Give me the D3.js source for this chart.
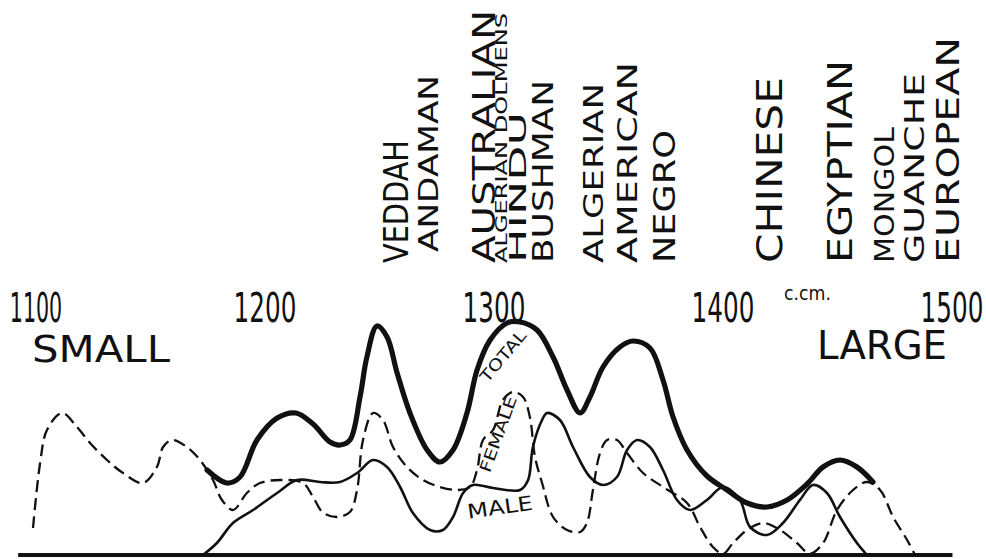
<!DOCTYPE html>
<html>
<head>
<meta charset="utf-8">
<script src="https://cdn.jsdelivr.net/npm/d3@7/dist/d3.min.js"></script>
<style>
  body { margin: 0; background: #fff; }
  text { font-family: "DejaVu Sans", sans-serif; fill: #111; }
</style>
</head>
<body>
<div id="chart"></div>
<script>
// cranial capacity scale, c.cm.
const ticks = [1100, 1200, 1300, 1400, 1500];

// races and where their label stands on the scale
const races = ["VEDDAH", "ANDAMAN", "AUSTRALIAN", "ALGERIAN DOLMENS", "HINDU", "BUSHMAN",
  "ALGERIAN", "AMERICAN", "NEGRO", "CHINESE", "EGYPTIAN", "MONGOL", "GUANCHE", "EUROPEAN"];
const raceCC = [1262, 1276, 1300, 1308, 1315, 1326, 1348, 1363, 1379, 1425, 1456, 1475, 1488, 1503];

// frequency curves [c.cm., frequency]
const total = [
  [1179.5, 34], [1188.2, 28.8], [1193.9, 31.2], [1201.3, 46], [1210.1, 54.8], [1218.3, 56.8],
  [1225.8, 52.4], [1233.2, 45.2], [1237.6, 44], [1241.9, 46], [1246.3, 63.2], [1249.3, 79.2],
  [1253.7, 91.6], [1258.1, 87.2], [1262.5, 72.8], [1268.1, 56.8], [1275.6, 42], [1281.2, 37.2],
  [1286.9, 42], [1293, 56.8], [1297.4, 74], [1303.1, 86], [1310.5, 92.8], [1316.2, 93.2],
  [1323.6, 90], [1330.6, 79.2], [1336.7, 66], [1342.4, 56.8], [1346.7, 63.2], [1352.4, 75.2],
  [1359.8, 83.2], [1365.5, 85.6], [1372.9, 82.8], [1378.6, 70], [1383, 55.2], [1389.1, 42],
  [1397.8, 31.6], [1406.6, 26], [1415.3, 20.8], [1424, 19.2], [1432.8, 22], [1441.5, 28.4],
  [1448.5, 35.2], [1455.9, 38], [1463.3, 35.2], [1470.3, 29.2]
];
const male = [
  [1177.7, 0], [1183.8, 4.8], [1190.8, 12.8], [1199.6, 18], [1210.1, 24.8], [1218.8, 30],
  [1228.8, 29.2], [1237.6, 29.2], [1245, 32.8], [1252, 38], [1258.1, 35.2], [1263.8, 27.2],
  [1269.4, 16.8], [1276.9, 10], [1282.5, 10], [1286.9, 15.2], [1291.3, 24.8], [1295.6, 28],
  [1304.4, 26.8], [1316.2, 26], [1319.7, 30], [1321.8, 43.2], [1325.8, 54], [1328, 56.8],
  [1333.6, 54], [1339.3, 43.2], [1346.7, 31.2], [1352.4, 28], [1358.5, 31.2], [1362.9, 42],
  [1367.3, 46], [1372.9, 43.2], [1378.6, 34], [1384.7, 22], [1390.4, 18], [1397.8, 22],
  [1404.8, 27.2], [1412.2, 22], [1416.6, 11.2], [1424, 8], [1431, 12.8], [1438.4, 22],
  [1444.1, 28], [1450.2, 24.8], [1455.9, 15.2], [1463.3, 4.8], [1467.7, 0]
];
const female = [
  [1103.5, 10.8], [1106.6, 36.8], [1109.6, 50], [1116.2, 56.8], [1122.7, 51.2], [1128.4, 44.8],
  [1135.8, 38], [1142.8, 32.8], [1151.5, 28.8], [1157.6, 35.2], [1160.3, 43.2], [1164.2, 46],
  [1170.7, 43.2], [1176.4, 38], [1182.1, 30], [1186, 22], [1190.8, 18], [1196.9, 24.8],
  [1202.6, 28.8], [1211.4, 30], [1221.4, 28.8], [1225.8, 23.2], [1230.1, 17], [1236.2, 15.2],
  [1241.9, 17.2], [1245, 26], [1247.6, 46], [1252, 56.8], [1256.3, 54], [1260.7, 43.2],
  [1266.8, 35.2], [1273.8, 30], [1281.2, 27.2], [1288.7, 26], [1294.3, 27.2], [1297.4, 34],
  [1300, 46], [1304.4, 50], [1308.7, 62], [1313.1, 65.2], [1317.5, 63.2], [1320.5, 55],
  [1322.7, 39.2], [1325.8, 28.8], [1330.6, 15.2], [1336.7, 10], [1342.4, 9.2], [1345.4, 12.8],
  [1348, 26], [1351.1, 40.8], [1354.2, 46], [1358.5, 46], [1362.9, 40.8], [1369.9, 32.8],
  [1378.6, 27.2], [1389.1, 20.8], [1394.8, 11.2], [1400.4, 3.2], [1404.8, 0.5], [1409.2, 4.8],
  [1415.3, 10], [1422.3, 12.8], [1429.7, 10], [1437.1, 4.8], [1442.8, 0.5], [1448.5, 4.8],
  [1454.6, 18], [1461.6, 26], [1467.7, 29.2], [1473.4, 26], [1479.1, 15.2], [1485.2, 6], [1488.7, 0]
];

// names written along the curves
const curveNames = ["TOTAL", "FEMALE", "MALE"];
const curveNameAt = [[1308.7, 79.6], [1306.6, 48.4], [1307.4, 19.2]];

var width = 986, height = 559;

var x = d3.scaleLinear().domain([1100, 1500]).range([25, 941]);
var y = d3.scaleLinear().domain([0, 100]).range([555, 305]);

var svg = d3.select("#chart").append("svg")
  .attr("width", width).attr("height", height);

// race labels: cap height, top of the word, bottom of the word
var raceStyle = [
  [24, 140, 263], [20, 75, 252], [23, 10, 263], [12, 13, 263], [17, 112, 263], [21, 80, 263],
  [20, 83, 263], [20, 62, 263], [22, 130, 263], [26, 77, 263], [24, 60, 263], [20, 127, 263],
  [20, 73, 263], [23, 37, 263]
];
var capRatio = 0.729;

svg.append("g").selectAll("text")
  .data(races)
  .join("text")
  .attr("transform", function(d, i) {
    var s = raceStyle[i];
    return "translate(" + (x(raceCC[i]) + s[0] / 2) + "," + s[2] + ") rotate(-90)";
  })
  .attr("font-size", function(d, i) { return raceStyle[i][0] / capRatio; })
  .attr("textLength", function(d, i) { return raceStyle[i][2] - raceStyle[i][1]; })
  .attr("lengthAdjust", "spacingAndGlyphs")
  .text(function(d) { return d; });

/* ------- scale numbers ------- */
// the hand lettered numbers are narrow, so squeeze them sideways
svg.append("g").selectAll("text")
  .data(ticks)
  .join("text")
  .attr("transform", function(d) {
    return "translate(" + (x(d) + 11) + ",322) scale(" + (d == 1100 ? 0.5 : 0.6) + ",1)";
  })
  .attr("text-anchor", "middle")
  .attr("font-size", 30 / capRatio)
  .text(function(d) { return d; });

svg.append("text")
  .attr("x", x(1400) + 72).attr("y", 300)
  .attr("font-size", 19)
  .attr("textLength", 47).attr("lengthAdjust", "spacingAndGlyphs")
  .text("c.cm.");

svg.append("text")
  .attr("x", x(1100) + 7).attr("y", 362)
  .attr("font-size", 27 / capRatio)
  .attr("textLength", 138).attr("lengthAdjust", "spacingAndGlyphs")
  .text("SMALL");

svg.append("text")
  .attr("x", x(1500) + 6).attr("y", 359)
  .attr("text-anchor", "end")
  .attr("font-size", 29 / capRatio)
  .attr("textLength", 130).attr("lengthAdjust", "spacingAndGlyphs")
  .text("LARGE");

/* ------- curves ------- */
var line = d3.line()
  .x(function(d) { return x(d[0]); })
  .y(function(d) { return y(d[1]); })
  .curve(d3.curveCatmullRom.alpha(0.5));

svg.append("path").datum(female)
  .attr("d", line)
  .attr("fill", "none").attr("stroke", "#111")
  .attr("stroke-width", 2.3).attr("stroke-dasharray", "12,6");

svg.append("path").datum(male)
  .attr("d", line)
  .attr("fill", "none").attr("stroke", "#111")
  .attr("stroke-width", 2.6);

svg.append("path").datum(total)
  .attr("d", line)
  .attr("fill", "none").attr("stroke", "#111")
  .attr("stroke-width", 5.2).attr("stroke-linecap", "round");

// base line
svg.append("line")
  .attr("x1", x(1097)).attr("x2", x(1505))
  .attr("y1", y(0)).attr("y2", y(0))
  .attr("stroke", "#111").attr("stroke-width", 4);

/* ------- curve names ------- */
var nameAngle = [-50, -70, -8];
var nameSize = [16, 16, 20];
var nameLen = [62, 80, 66];
svg.append("g").selectAll("text")
  .data(curveNames)
  .join("text")
  .attr("transform", function(d, i) {
    var p = curveNameAt[i];
    return "translate(" + x(p[0]) + "," + y(p[1]) + ") rotate(" + nameAngle[i] + ")";
  })
  .attr("text-anchor", "middle")
  .attr("dy", "0.36em")
  .attr("font-size", function(d, i) { return nameSize[i]; })
  .attr("textLength", function(d, i) { return nameLen[i]; })
  .attr("lengthAdjust", "spacingAndGlyphs")
  .text(function(d) { return d; });
</script>
</body>
</html>
